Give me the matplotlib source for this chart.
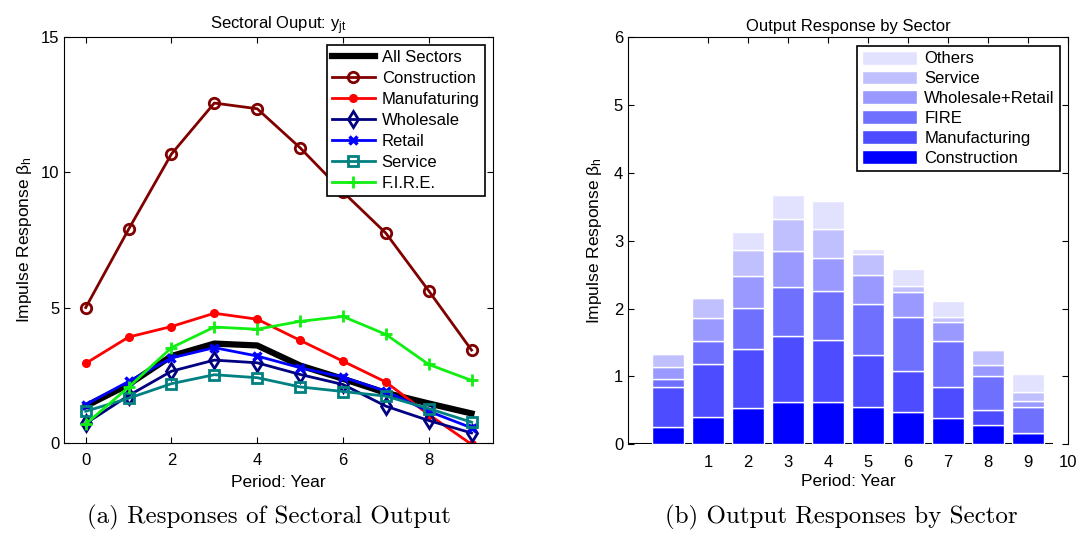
import numpy as np
import matplotlib
matplotlib.use("Agg")
import matplotlib.pyplot as plt

plt.rcParams["font.family"] = ["Liberation Sans", "DejaVu Sans"]
plt.rcParams["mathtext.default"] = "regular"

# left panel: impulse responses by sector
periods = list(range(10))
all_sectors = [1.36, 2.16, 3.21, 3.67, 3.60, 2.86, 2.37, 1.85, 1.46, 1.09]
construction = [5.00, 7.89, 10.67, 12.55, 12.34, 10.90, 9.27, 7.75, 5.62, 3.43]
manufacturing = [2.94, 3.91, 4.30, 4.79, 4.57, 3.79, 3.02, 2.25, 1.05, -0.05]
wholesale = [0.72, 1.75, 2.65, 3.06, 2.96, 2.53, 2.16, 1.36, 0.83, 0.37]
retail = [1.42, 2.27, 3.14, 3.52, 3.21, 2.78, 2.43, 1.91, 1.17, 0.56]
service = [1.17, 1.65, 2.19, 2.52, 2.41, 2.07, 1.90, 1.73, 1.27, 0.77]
fire = [0.70, 2.06, 3.52, 4.28, 4.20, 4.49, 4.67, 4.01, 2.90, 2.31]

# right panel: stacked contributions (bottom -> top)
bar_periods = list(range(10))
stack_names = ["Construction", "Manufacturing", "FIRE", "Wholesale+Retail", "Service", "Others"]
c_construction = [0.247, 0.395, 0.528, 0.622, 0.617, 0.543, 0.469, 0.380, 0.277, 0.158]
c_manufacturing = [0.593, 0.790, 0.870, 0.973, 0.919, 0.766, 0.608, 0.460, 0.227, 0.0]
c_fire = [0.118, 0.341, 0.607, 0.726, 0.716, 0.760, 0.804, 0.686, 0.498, 0.395]
c_wholesale_retail = [0.178, 0.336, 0.469, 0.533, 0.499, 0.430, 0.366, 0.276, 0.168, 0.079]
c_service = [0.197, 0.291, 0.395, 0.460, 0.429, 0.311, 0.079, 0.075, 0.218, 0.138]
c_others = [0.0, 0.0, 0.262, 0.365, 0.410, 0.064, 0.262, 0.227, 0.0, 0.257]
stack_colors = ["#0000ff", "#4d4dff", "#7070ff", "#9999ff", "#c0c0ff", "#e2e2ff"]

fig = plt.figure(figsize=(10.88, 5.35), dpi=100)

ax1 = fig.add_axes([0.0591, 0.172, 0.394, 0.7594])
ax1.plot(periods, all_sectors, color="black", lw=4.5, label="All Sectors")
ax1.plot(periods, construction, color="#800000", lw=2, marker="o", ms=7.5,
         mfc="none", mew=2, label="Construction")
ax1.plot(periods, manufacturing, color="red", lw=2, marker="o", ms=5.5,
         label="Manufaturing")
ax1.plot(periods, wholesale, color="#000080", lw=2, marker="d", ms=8,
         mfc="none", mew=2, label="Wholesale")
ax1.plot(periods, retail, color="blue", lw=2, marker="x", ms=6, mew=2.5,
         label="Retail")
ax1.plot(periods, service, color="#008080", lw=2, marker="s", ms=7,
         mfc="none", mew=2, label="Service")
ax1.plot(periods, fire, color="#11ee11", lw=2, marker="+", ms=9, mew=2,
         label="F.I.R.E.")
ax1.set_xlim(-0.5, 9.5)
ax1.set_ylim(0, 15)
ax1.set_xticks([0, 2, 4, 6, 8])
ax1.set_yticks([0, 5, 10, 15])
ax1.tick_params(direction="in", top=True, right=True, labelsize=12, length=4)
ax1.tick_params(axis="x", pad=7)
ax1.set_title("Sectoral Ouput: y$_{jt}$", fontsize=12, pad=5)
ax1.set_xlabel("Period: Year", fontsize=12.5, labelpad=5)
ax1.set_ylabel("Impulse Response β$_h$", fontsize=12.5, labelpad=5)
leg1 = ax1.legend(loc="upper right", fontsize=12, fancybox=False, framealpha=1,
                  edgecolor="black", handlelength=2.6, borderpad=0.3,
                  labelspacing=0.36, borderaxespad=0.5, handletextpad=0.4)
leg1.get_frame().set_linewidth(1.2)

ax2 = fig.add_axes([0.5772, 0.170, 0.4044, 0.760])
bottom = np.zeros(len(bar_periods))
layers = [c_construction, c_manufacturing, c_fire, c_wholesale_retail, c_service, c_others]
handles = []
for name, vals, col in zip(stack_names, layers, stack_colors):
    b = ax2.bar(bar_periods, vals, 0.8, bottom=bottom, color=col,
                edgecolor="white", linewidth=1, label=name, zorder=2)
    bottom = bottom + np.array(vals)
    handles.append(b)
ax2.axhline(0, xmin=0, xmax=0.964, color="black", lw=1.5, zorder=1)
ax2.spines["bottom"].set_visible(False)
ax2.set_xlim(-1, 10)
ax2.set_ylim(0, 6)
ax2.set_xticks(range(1, 11))
ax2.set_yticks(range(0, 7))
ax2.tick_params(direction="in", top=True, right=True, labelsize=12, length=4)
ax2.tick_params(axis="x", bottom=False, pad=8)
ax2.set_title("Output Response by Sector", fontsize=12, pad=5)
ax2.set_xlabel("Period: Year", fontsize=12.5, labelpad=3)
ax2.set_ylabel("Impulse Response β$_h$", fontsize=12.5, labelpad=7)
leg2 = ax2.legend(handles[::-1], stack_names[::-1], loc="upper right", fontsize=12,
                  fancybox=False, framealpha=1, edgecolor="black",
                  handlelength=3.3, handleheight=0.9, borderpad=0.3,
                  labelspacing=0.25, borderaxespad=0.5, handletextpad=0.4)
leg2.get_frame().set_linewidth(1.2)

fig.text(0.247, 0.032, "(a) Responses of Sectoral Output", family="cmr10",
         fontsize=18, ha="center", va="center")
fig.text(0.7735, 0.032, "(b) Output Responses by Sector", family="cmr10",
         fontsize=18, ha="center", va="center")

fig.savefig("out.png", dpi=100)
